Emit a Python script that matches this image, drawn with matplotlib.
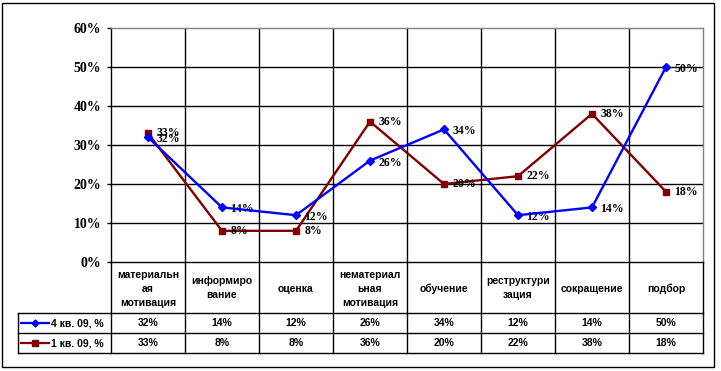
import matplotlib
matplotlib.use('Agg')
import matplotlib.pyplot as plt
from matplotlib.patches import Rectangle

categories = ['материальн\nая\nмотивация', 'информиро\nвание', 'оценка',
              'нематериал\nьная\nмотивация', 'обучение', 'реструктури\nзация',
              'сокращение', 'подбор']
q4 = [32, 14, 12, 26, 34, 12, 14, 50]
q1 = [33, 8, 8, 36, 20, 22, 38, 18]
series_names = ['4 кв. 09, %', '1 кв. 09, %']
yticks = [0, 10, 20, 30, 40, 50, 60]

blue = '#0000ff'
red = '#800000'
sans = 'Liberation Sans'
serif = 'Liberation Serif'

W, H = 721, 371
fig = plt.figure(figsize=(W / 100, H / 100), dpi=100)

# pixel layout of the Excel chart
L, R, T, B = 111, 703, 28, 262
row_lines = [262, 313, 333, 353]
leg_left = 18
n = len(categories)
col_w = (R - L) / n

# overlay for border and data table (pixel coords)
ov = fig.add_axes([0, 0, 1, 1], zorder=0)
ov.set_xlim(0, W)
ov.set_ylim(H, 0)
ov.axis('off')
ov.add_patch(Rectangle((2, 3), 712, 364, fill=False, ec='black', lw=1))

# table lines
for y in row_lines[1:]:
    ov.plot([leg_left, R], [y, y], color='black', lw=1)
ov.plot([leg_left, leg_left], [row_lines[1], row_lines[3]], color='black', lw=1)
for i in range(n + 1):
    x = L + col_w * i
    ov.plot([x, x], [row_lines[0], row_lines[3]], color='black', lw=1)

# header labels
for i, c in enumerate(categories):
    ov.text(L + col_w * (i + 0.5), (row_lines[0] + row_lines[1]) / 2 + 1, c,
            ha='center', va='center', fontsize=7.5, fontweight='bold',
            family=sans, linespacing=1.5)

# value rows with legend keys
for r, (vals, name, col, mk, ms) in enumerate([(q4, series_names[0], blue, 'D', 3.5),
                                                (q1, series_names[1], red, 's', 4.5)]):
    yc = (row_lines[r + 1] + row_lines[r + 2]) / 2
    ov.plot([21, 49], [yc, yc], color=col, lw=1.6)
    ov.plot([35], [yc], color=col, marker=mk, ms=ms)
    ov.text(51, yc + 0.5, name, ha='left', va='center', fontsize=7.5,
            fontweight='bold', family=sans)
    for i, v in enumerate(vals):
        ov.text(L + col_w * (i + 0.5), yc + 0.5, f'{v}%', ha='center', va='center',
                fontsize=7.5, fontweight='bold', family=sans)

# main chart
ax = fig.add_axes([L / W, 1 - B / H, (R - L) / W, (B - T) / H], zorder=2)
ax.set_facecolor('none')
xs = [i + 0.5 for i in range(n)]
ax.plot(xs, q4, color=blue, lw=1.7, marker='D', ms=4, zorder=4)
ax.plot(xs, q1, color=red, lw=1.7, marker='s', ms=5, zorder=3)
for x, v in zip(xs, q1):
    ax.annotate(f'{v}%', (x, v), xytext=(6, 0), textcoords='offset points',
                ha='left', va='center', fontsize=8.5, fontweight='bold', family=serif)
for x, v in zip(xs, q4):
    ax.annotate(f'{v}%', (x, v), xytext=(6, -1.5), textcoords='offset points',
                ha='left', va='center', fontsize=8.5, fontweight='bold', family=serif)

ax.set_xlim(0, n)
ax.set_ylim(0, 60)
ax.set_yticks(yticks)
ax.set_yticklabels([f'{t}%' for t in yticks], fontsize=10, fontweight='bold', family=serif)
ax.set_xticks([])
for y in yticks[1:-1]:
    ax.axhline(y, color='black', lw=1, zorder=1)
for i in range(1, n):
    ax.axvline(i, color='black', lw=1, zorder=1)
ax.tick_params(axis='y', length=3, width=1, pad=4, direction='out')
ax.spines['left'].set_color('black')
ax.spines['bottom'].set_color('black')
ax.spines['top'].set_color('#808080')
ax.spines['right'].set_color('#808080')
for s in ax.spines.values():
    s.set_linewidth(1)

fig.savefig('out.png', dpi=100)
